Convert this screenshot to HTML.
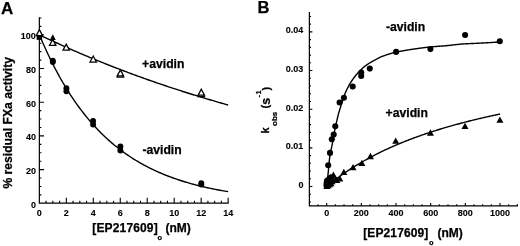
<!DOCTYPE html>
<html><head><meta charset="utf-8"><style>
html,body{margin:0;padding:0;background:#fff;}
svg{display:block;will-change:transform;}
text{font-family:"Liberation Sans",sans-serif;font-weight:bold;fill:#000;stroke:#000;stroke-width:0.25px;}
.t{stroke-width:0.1px;}
</style></head><body>
<svg width="520" height="246" viewBox="0 0 520 246">
<rect width="520" height="246" fill="#fff"/>
<path d="M39.35 17.95V203.05H228.14" fill="none" stroke="#000" stroke-width="1.2" stroke-linecap="square"/>
<path d="M39.35 194.88h2.0M39.35 186.45h2.0M39.35 178.03h2.0M39.35 169.6h4.6M39.35 161.18h2.0M39.35 152.75h2.0M39.35 144.33h2.0M39.35 135.9h4.6M39.35 127.48h2.0M39.35 119.05h2.0M39.35 110.63h2.0M39.35 102.2h4.6M39.35 93.78h2.0M39.35 85.35h2.0M39.35 76.93h2.0M39.35 68.5h4.6M39.35 60.08h2.0M39.35 51.65h2.0M39.35 43.22h2.0M39.35 34.8h4.6M39.35 26.38h2.0M39.35 17.95h2.0M46.09 203.05v-2.2M52.84 203.05v-2.2M59.58 203.05v-2.2M66.32 203.05v-5.2M73.06 203.05v-2.2M79.81 203.05v-2.2M86.55 203.05v-2.2M93.29 203.05v-5.2M100.03 203.05v-2.2M106.78 203.05v-2.2M113.52 203.05v-2.2M120.26 203.05v-5.2M127 203.05v-2.2M133.75 203.05v-2.2M140.49 203.05v-2.2M147.23 203.05v-5.2M153.97 203.05v-2.2M160.72 203.05v-2.2M167.46 203.05v-2.2M174.2 203.05v-5.2M180.94 203.05v-2.2M187.68 203.05v-2.2M194.43 203.05v-2.2M201.17 203.05v-5.2M207.91 203.05v-2.2M214.66 203.05v-2.2M221.4 203.05v-2.2M228.14 203.05v-5.2" stroke="#000" stroke-width="1.1"/>
<path d="M309.37 12.58V205.9H517.33" fill="none" stroke="#000" stroke-width="1.2" stroke-linecap="square"/>
<path d="M309.37 201.96h1.6M309.37 194.23h1.6M309.37 186.5h3.0M309.37 178.77h1.6M309.37 171.04h1.6M309.37 163.31h1.6M309.37 155.58h1.6M309.37 147.85h3.0M309.37 140.12h1.6M309.37 132.39h1.6M309.37 124.66h1.6M309.37 116.93h1.6M309.37 109.2h3.0M309.37 101.47h1.6M309.37 93.74h1.6M309.37 86.01h1.6M309.37 78.28h1.6M309.37 70.55h3.0M309.37 62.82h1.6M309.37 55.09h1.6M309.37 47.36h1.6M309.37 39.63h1.6M309.37 31.9h3.0M309.37 24.17h1.6M309.37 16.44h1.6M318.03 205.9v-1.6M326.7 205.9v-3.0M335.37 205.9v-1.6M344.03 205.9v-1.6M352.69 205.9v-1.6M361.36 205.9v-3.0M370.02 205.9v-1.6M378.69 205.9v-1.6M387.36 205.9v-1.6M396.02 205.9v-3.0M404.69 205.9v-1.6M413.35 205.9v-1.6M422.01 205.9v-1.6M430.68 205.9v-3.0M439.35 205.9v-1.6M448.01 205.9v-1.6M456.67 205.9v-1.6M465.34 205.9v-3.0M474 205.9v-1.6M482.67 205.9v-1.6M491.34 205.9v-1.6M500 205.9v-3.0M508.66 205.9v-1.6M517.33 205.9v-1.6" stroke="#000" stroke-width="1.1"/>
<path d="M39.35 34.8 40.94 35.56 42.52 36.32 44.11 37.07 45.7 37.83 47.28 38.57 48.87 39.32 50.46 40.06 52.04 40.8 53.63 41.53 55.21 42.26 56.8 42.99 58.39 43.71 59.97 44.44 61.56 45.15 63.15 45.87 64.73 46.58 66.32 47.29 67.91 47.99 69.49 48.69 71.08 49.39 72.67 50.09 74.25 50.78 75.84 51.47 77.43 52.16 79.01 52.84 80.6 53.52 82.18 54.2 83.77 54.87 85.36 55.54 86.94 56.21 88.53 56.87 90.12 57.54 91.7 58.19 93.29 58.85 94.88 59.5 96.46 60.15 98.05 60.8 99.64 61.44 101.22 62.08 102.81 62.72 104.4 63.36 105.98 63.99 107.57 64.62 109.15 65.25 110.74 65.87 112.33 66.49 113.91 67.11 115.5 67.73 117.09 68.34 118.67 68.95 120.26 69.55 121.85 70.16 123.43 70.76 125.02 71.36 126.61 71.96 128.19 72.55 129.78 73.14 131.37 73.73 132.95 74.31 134.54 74.9 136.12 75.48 137.71 76.06 139.3 76.63 140.88 77.2 142.47 77.77 144.06 78.34 145.64 78.9 147.23 79.47 148.82 80.03 150.4 80.58 151.99 81.14 153.58 81.69 155.16 82.24 156.75 82.79 158.34 83.33 159.92 83.87 161.51 84.41 163.09 84.95 164.68 85.49 166.27 86.02 167.85 86.55 169.44 87.08 171.03 87.6 172.61 88.12 174.2 88.64 175.79 89.16 177.37 89.68 178.96 90.19 180.55 90.7 182.13 91.21 183.72 91.72 185.31 92.22 186.89 92.72 188.48 93.22 190.06 93.72 191.65 94.22 193.24 94.71 194.82 95.2 196.41 95.69 198 96.18 199.58 96.66 201.17 97.14 202.76 97.62 204.34 98.1 205.93 98.57 207.52 99.05 209.1 99.52 210.69 99.99 212.28 100.45 213.86 100.92 215.45 101.38 217.03 101.84 218.62 102.3 220.21 102.76 221.79 103.21 223.38 103.66 224.97 104.11 226.55 104.56 228.14 105.01" fill="none" stroke="#000" stroke-width="1.4"/>
<path d="M39.35 34.8 40.94 38.54 42.52 42.2 44.11 45.78 45.7 49.28 47.28 52.71 48.87 56.05 50.46 59.32 52.04 62.52 53.63 65.65 55.21 68.71 56.8 71.7 58.39 74.63 59.97 77.48 61.56 80.28 63.15 83.01 64.73 85.69 66.32 88.3 67.91 90.85 69.49 93.35 71.08 95.8 72.67 98.19 74.25 100.52 75.84 102.8 77.43 105.04 79.01 107.22 80.6 109.36 82.18 111.44 83.77 113.48 85.36 115.48 86.94 117.43 88.53 119.34 90.12 121.21 91.7 123.03 93.29 124.81 94.88 126.56 96.46 128.26 98.05 129.93 99.64 131.56 101.22 133.15 102.81 134.71 104.4 136.24 105.98 137.73 107.57 139.18 109.15 140.61 110.74 142 112.33 143.36 113.91 144.7 115.5 146 117.09 147.27 118.67 148.52 120.26 149.73 121.85 150.92 123.43 152.09 125.02 153.22 126.61 154.34 128.19 155.43 129.78 156.49 131.37 157.53 132.95 158.55 134.54 159.54 136.12 160.51 137.71 161.46 139.3 162.39 140.88 163.3 142.47 164.19 144.06 165.06 145.64 165.91 147.23 166.74 148.82 167.55 150.4 168.35 151.99 169.12 153.58 169.88 155.16 170.63 156.75 171.35 158.34 172.06 159.92 172.76 161.51 173.43 163.09 174.1 164.68 174.75 166.27 175.38 167.85 176 169.44 176.61 171.03 177.2 172.61 177.78 174.2 178.35 175.79 178.9 177.37 179.44 178.96 179.98 180.55 180.49 182.13 181 183.72 181.5 185.31 181.98 186.89 182.45 188.48 182.92 190.06 183.37 191.65 183.81 193.24 184.25 194.82 184.67 196.41 185.08 198 185.49 199.58 185.88 201.17 186.27 202.76 186.65 204.34 187.02 205.93 187.38 207.52 187.73 209.1 188.08 210.69 188.42 212.28 188.75 213.86 189.07 215.45 189.39 217.03 189.7 218.62 190 220.21 190.3 221.79 190.58 223.38 190.87 224.97 191.14 226.55 191.41 228.14 191.68" fill="none" stroke="#000" stroke-width="1.4"/>
<path d="M326.7 186.5 327.57 185.78 328.44 185.06 329.31 184.35 330.18 183.64 331.05 182.95 331.93 182.26 332.8 181.57 333.67 180.9 334.54 180.23 335.41 179.57 336.28 178.91 337.15 178.26 338.02 177.61 338.89 176.97 339.76 176.34 340.63 175.71 341.5 175.09 342.38 174.48 343.25 173.87 344.12 173.26 344.99 172.67 345.86 172.07 346.73 171.48 347.6 170.9 348.47 170.32 349.34 169.75 350.21 169.18 351.08 168.62 351.95 168.06 352.83 167.51 353.7 166.96 354.57 166.42 355.44 165.88 356.31 165.35 357.18 164.82 358.05 164.3 358.92 163.78 359.79 163.26 360.66 162.75 361.53 162.24 362.41 161.74 363.28 161.24 364.15 160.75 365.02 160.26 365.89 159.77 366.76 159.29 367.63 158.81 368.5 158.33 369.37 157.86 370.24 157.4 371.11 156.93 371.98 156.47 372.86 156.02 373.73 155.56 374.6 155.12 375.47 154.67 376.34 154.23 377.21 153.79 378.08 153.36 378.95 152.92 379.82 152.5 380.69 152.07 381.56 151.65 382.43 151.23 383.31 150.81 384.18 150.4 385.05 149.99 385.92 149.59 386.79 149.18 387.66 148.78 388.53 148.39 389.4 147.99 390.27 147.6 391.14 147.21 392.01 146.83 392.88 146.44 393.76 146.06 394.63 145.69 395.5 145.31 396.37 144.94 397.24 144.57 398.11 144.21 398.98 143.84 399.85 143.48 400.72 143.12 401.59 142.76 402.46 142.41 403.34 142.06 404.21 141.71 405.08 141.36 405.95 141.02 406.82 140.68 407.69 140.34 408.56 140 409.43 139.67 410.3 139.33 411.17 139 412.04 138.68 412.91 138.35 413.79 138.03 414.66 137.7 415.53 137.38 416.4 137.07 417.27 136.75 418.14 136.44 419.01 136.13 419.88 135.82 420.75 135.51 421.62 135.21 422.49 134.9 423.36 134.6 424.24 134.3 425.11 134.01 425.98 133.71 426.85 133.42 427.72 133.13 428.59 132.84 429.46 132.55 430.33 132.26 431.2 131.98 432.07 131.7 432.94 131.41 433.82 131.14 434.69 130.86 435.56 130.58 436.43 130.31 437.3 130.04 438.17 129.77 439.04 129.5 439.91 129.23 440.78 128.96 441.65 128.7 442.52 128.44 443.39 128.18 444.27 127.92 445.14 127.66 446.01 127.4 446.88 127.15 447.75 126.9 448.62 126.64 449.49 126.39 450.36 126.14 451.23 125.9 452.1 125.65 452.97 125.41 453.84 125.16 454.72 124.92 455.59 124.68 456.46 124.44 457.33 124.21 458.2 123.97 459.07 123.74 459.94 123.5 460.81 123.27 461.68 123.04 462.55 122.81 463.42 122.58 464.29 122.35 465.17 122.13 466.04 121.9 466.91 121.68 467.78 121.46 468.65 121.24 469.52 121.02 470.39 120.8 471.26 120.58 472.13 120.37 473 120.15 473.87 119.94 474.75 119.73 475.62 119.52 476.49 119.31 477.36 119.1 478.23 118.89 479.1 118.68 479.97 118.48 480.84 118.27 481.71 118.07 482.58 117.87 483.45 117.66 484.32 117.46 485.2 117.26 486.07 117.07 486.94 116.87 487.81 116.67 488.68 116.48 489.55 116.28 490.42 116.09 491.29 115.9 492.16 115.71 493.03 115.52 493.9 115.33 494.77 115.14 495.65 114.95 496.52 114.77 497.39 114.58 498.26 114.4 499.13 114.21 500 114.03" fill="none" stroke="#000" stroke-width="1.4"/>
<path d="M326.5 186.5 327.08 182.3 327.66 177.69 328.24 172.32 328.82 166.04 329.4 159.94 329.98 155.14 330.56 151.96 331.14 149.42 331.72 146.9 332.3 143.9 332.88 140.63 333.46 137.25 334.03 133.93 334.61 130.83 335.19 128.01 335.77 125.36 336.35 122.81 336.93 120.29 337.51 117.75 338.09 115.3 338.67 113.15 339.25 111.19 339.83 109.33 340.41 107.55 340.99 105.79 341.57 104 342.15 102.12 342.73 100.2 343.31 98.31 343.89 96.53 344.47 94.93 345.05 93.53 345.63 92.18 346.21 90.9 346.79 89.67 347.37 88.48 347.95 87.35 348.52 86.26 349.1 85.21 349.68 84.2 350.26 83.23 350.84 82.29 351.42 81.38 352 80.5 352.58 79.64 353.16 78.81 353.74 78.01 354.32 77.23 354.9 76.48 355.48 75.75 356.06 75.04 356.64 74.35 357.22 73.68 357.8 73.03 358.38 72.39 358.96 71.77 359.54 71.17 360.12 70.58 360.7 70 361.28 69.44 361.86 68.89 362.44 68.36 363.01 67.84 363.59 67.34 364.17 66.85 364.75 66.38 365.33 65.92 365.91 65.48 366.49 65.06 367.07 64.66 367.65 64.26 368.23 63.88 368.81 63.51 369.39 63.15 369.97 62.8 370.55 62.45 371.13 62.12 371.71 61.79 372.29 61.46 372.87 61.14 373.45 60.82 374.03 60.5 374.61 60.19 375.19 59.87 375.77 59.56 376.35 59.24 376.93 58.93 377.5 58.63 378.08 58.33 378.66 58.03 379.24 57.74 379.82 57.46 380.4 57.19 380.98 56.93 381.56 56.68 382.14 56.44 382.72 56.22 383.3 56 383.88 55.78 384.46 55.57 385.04 55.36 385.62 55.16 386.2 54.96 386.78 54.77 387.36 54.58 387.94 54.39 388.52 54.21 389.1 54.03 389.68 53.85 390.26 53.68 390.84 53.51 391.42 53.35 391.99 53.19 392.57 53.04 393.15 52.89 393.73 52.74 394.31 52.6 394.89 52.46 395.47 52.32 396.05 52.19 396.63 52.06 397.21 51.93 397.79 51.81 398.37 51.69 398.95 51.57 399.53 51.45 400.11 51.34 400.69 51.23 401.27 51.12 401.85 51.01 402.43 50.9 403.01 50.8 403.59 50.69 404.17 50.59 404.75 50.49 405.33 50.39 405.91 50.3 406.48 50.2 407.06 50.1 407.64 50.01 408.22 49.92 408.8 49.83 409.38 49.74 409.96 49.65 410.54 49.56 411.12 49.47 411.7 49.39 412.28 49.3 412.86 49.21 413.44 49.13 414.02 49.04 414.6 48.96 415.18 48.87 415.76 48.79 416.34 48.71 416.92 48.62 417.5 48.54 418.08 48.46 418.66 48.38 419.24 48.3 419.82 48.22 420.39 48.14 420.97 48.06 421.55 47.98 422.13 47.91 422.71 47.83 423.29 47.76 423.87 47.69 424.45 47.62 425.03 47.55 425.61 47.48 426.19 47.41 426.77 47.34 427.35 47.28 427.93 47.21 428.51 47.15 429.09 47.09 429.67 47.03 430.25 46.98 430.83 46.92 431.41 46.87 431.99 46.82 432.57 46.77 433.15 46.72 433.73 46.67 434.31 46.62 434.88 46.58 435.46 46.53 436.04 46.49 436.62 46.45 437.2 46.4 437.78 46.36 438.36 46.32 438.94 46.28 439.52 46.24 440.1 46.19 440.68 46.15 441.26 46.11 441.84 46.06 442.42 46.02 443 45.98 443.58 45.93 444.16 45.88 444.74 45.84 445.32 45.79 445.9 45.74 446.48 45.68 447.06 45.63 447.64 45.57 448.22 45.51 448.8 45.45 449.37 45.39 449.95 45.32 450.53 45.26 451.11 45.19 451.69 45.12 452.27 45.05 452.85 44.99 453.43 44.92 454.01 44.85 454.59 44.78 455.17 44.71 455.75 44.64 456.33 44.58 456.91 44.51 457.49 44.45 458.07 44.39 458.65 44.33 459.23 44.27 459.81 44.22 460.39 44.16 460.97 44.11 461.55 44.07 462.13 44.03 462.71 43.99 463.29 43.95 463.86 43.91 464.44 43.88 465.02 43.85 465.6 43.81 466.18 43.78 466.76 43.75 467.34 43.72 467.92 43.7 468.5 43.67 469.08 43.64 469.66 43.61 470.24 43.59 470.82 43.56 471.4 43.54 471.98 43.51 472.56 43.49 473.14 43.46 473.72 43.44 474.3 43.41 474.88 43.39 475.46 43.36 476.04 43.34 476.62 43.31 477.2 43.28 477.78 43.25 478.35 43.22 478.93 43.19 479.51 43.16 480.09 43.13 480.67 43.1 481.25 43.07 481.83 43.04 482.41 43.01 482.99 42.98 483.57 42.94 484.15 42.91 484.73 42.88 485.31 42.85 485.89 42.82 486.47 42.78 487.05 42.75 487.63 42.72 488.21 42.69 488.79 42.65 489.37 42.62 489.95 42.59 490.53 42.55 491.11 42.52 491.69 42.49 492.27 42.45 492.84 42.42 493.42 42.38 494 42.35 494.58 42.32 495.16 42.28 495.74 42.25 496.32 42.21 496.9 42.18 497.48 42.14 498.06 42.11 498.64 42.07 499.22 42.04 499.8 42" fill="none" stroke="#000" stroke-width="1.4"/>
<polygon points="39.4,29.6 42.6,35.6 36.2,35.6" fill="#fff" stroke="#000" stroke-width="1.25" stroke-linejoin="miter"/>
<polygon points="52.7,39.4 55.9,45.4 49.5,45.4" fill="#fff" stroke="#000" stroke-width="1.25" stroke-linejoin="miter"/>
<polygon points="66.2,44.1 69.4,50.1 63,50.1" fill="#fff" stroke="#000" stroke-width="1.25" stroke-linejoin="miter"/>
<polygon points="93.2,56 96.4,62 90,62" fill="#fff" stroke="#000" stroke-width="1.25" stroke-linejoin="miter"/>
<polygon points="120.4,71.2 123.6,77.2 117.2,77.2" fill="#fff" stroke="#000" stroke-width="1.25" stroke-linejoin="miter"/>
<polygon points="120.4,69.9 123.6,75.9 117.2,75.9" fill="#fff" stroke="#000" stroke-width="1.25" stroke-linejoin="miter"/>
<polygon points="201.3,90.6 204.5,96.6 198.1,96.6" fill="#fff" stroke="#000" stroke-width="1.25" stroke-linejoin="miter"/>
<polygon points="201.3,89.2 204.5,95.2 198.1,95.2" fill="#fff" stroke="#000" stroke-width="1.25" stroke-linejoin="miter"/>
<rect x="36.7" y="34.9" width="5.4" height="5"/>
<polygon points="52.8,34.3 55.8,40.1 49.8,40.1"/>
<circle cx="52.8" cy="60.7" r="2.95"/>
<circle cx="52.8" cy="62" r="2.95"/>
<circle cx="66.4" cy="88.3" r="2.95"/>
<circle cx="66.4" cy="91.3" r="2.95"/>
<circle cx="93.1" cy="121" r="2.95"/>
<circle cx="93.1" cy="124.5" r="2.95"/>
<circle cx="120.4" cy="146.4" r="2.95"/>
<circle cx="120.4" cy="150.5" r="2.95"/>
<circle cx="201.3" cy="183.1" r="2.95"/>
<circle cx="201.3" cy="184.6" r="2.95"/>
<circle cx="326.5" cy="185.6" r="3.05"/>
<circle cx="326.6" cy="183" r="3.05"/>
<circle cx="327" cy="180.8" r="3.05"/>
<circle cx="329.3" cy="178.8" r="3.05"/>
<circle cx="331.2" cy="177.4" r="3.05"/>
<circle cx="328.2" cy="165.2" r="3.05"/>
<circle cx="330" cy="152.9" r="3.05"/>
<circle cx="331.8" cy="139.2" r="3.05"/>
<circle cx="333.7" cy="134.6" r="3.05"/>
<circle cx="335.3" cy="126.3" r="3.05"/>
<circle cx="339.6" cy="102.5" r="3.05"/>
<circle cx="343.9" cy="97.7" r="3.05"/>
<circle cx="352.7" cy="86.5" r="3.05"/>
<circle cx="361.2" cy="72.6" r="3.05"/>
<circle cx="361.2" cy="76" r="3.05"/>
<circle cx="369.8" cy="68.6" r="3.05"/>
<circle cx="396.1" cy="51.9" r="3.05"/>
<circle cx="430.4" cy="49.1" r="3.05"/>
<circle cx="465.1" cy="35" r="3.05"/>
<circle cx="499.8" cy="41.2" r="3.05"/>
<polygon points="326.9,182.65 330.4,188.95 323.4,188.95"/>
<polygon points="328,181.85 331.5,188.15 324.5,188.15"/>
<polygon points="329.5,180.85 333,187.15 326,187.15"/>
<polygon points="331,179.85 334.5,186.15 327.5,186.15"/>
<polygon points="332,177.85 335.5,184.15 328.5,184.15"/>
<polygon points="331,175.45 334.5,181.75 327.5,181.75"/>
<polygon points="333.4,171.45 336.9,177.75 329.9,177.75"/>
<polygon points="335.6,175.85 339.1,182.15 332.1,182.15"/>
<polygon points="336.8,176.65 340.3,182.95 333.3,182.95"/>
<polygon points="339.8,175.25 343.3,181.55 336.3,181.55"/>
<polygon points="343.8,168.75 347.3,175.05 340.3,175.05"/>
<polygon points="353,163.95 356.5,170.25 349.5,170.25"/>
<polygon points="361.9,159.75 365.4,166.05 358.4,166.05"/>
<polygon points="370.4,152.85 373.9,159.15 366.9,159.15"/>
<polygon points="395.7,137.45 399.2,143.75 392.2,143.75"/>
<polygon points="430.4,129.35 433.9,135.65 426.9,135.65"/>
<polygon points="465,122.65 468.5,128.95 461.5,128.95"/>
<polygon points="499.9,116.55 503.4,122.85 496.4,122.85"/>
<text x="35.9" y="207.8" font-size="9" text-anchor="end" class="t">0</text>
<text x="35.9" y="174.1" font-size="9" text-anchor="end" class="t">20</text>
<text x="35.9" y="140.4" font-size="9" text-anchor="end" class="t">40</text>
<text x="35.9" y="106.7" font-size="9" text-anchor="end" class="t">60</text>
<text x="35.9" y="73" font-size="9" text-anchor="end" class="t">80</text>
<text x="35.9" y="39.3" font-size="9" text-anchor="end" class="t">100</text>
<text x="39.35" y="216" font-size="9" text-anchor="middle" class="t">0</text>
<text x="66.32" y="216" font-size="9" text-anchor="middle" class="t">2</text>
<text x="93.29" y="216" font-size="9" text-anchor="middle" class="t">4</text>
<text x="120.26" y="216" font-size="9" text-anchor="middle" class="t">6</text>
<text x="147.23" y="216" font-size="9" text-anchor="middle" class="t">8</text>
<text x="174.2" y="216" font-size="9" text-anchor="middle" class="t">10</text>
<text x="201.17" y="216" font-size="9" text-anchor="middle" class="t">12</text>
<text x="228.14" y="216" font-size="9" text-anchor="middle" class="t">14</text>
<text x="303.4" y="187.9" font-size="9" text-anchor="end" class="t">0</text>
<text x="303.4" y="149.25" font-size="9" text-anchor="end" class="t">0.01</text>
<text x="303.4" y="110.6" font-size="9" text-anchor="end" class="t">0.02</text>
<text x="303.4" y="71.95" font-size="9" text-anchor="end" class="t">0.03</text>
<text x="303.4" y="33.3" font-size="9" text-anchor="end" class="t">0.04</text>
<text x="326.7" y="216.2" font-size="9" text-anchor="middle" class="t">0</text>
<text x="361.36" y="216.2" font-size="9" text-anchor="middle" class="t">200</text>
<text x="396.02" y="216.2" font-size="9" text-anchor="middle" class="t">400</text>
<text x="430.68" y="216.2" font-size="9" text-anchor="middle" class="t">600</text>
<text x="465.34" y="216.2" font-size="9" text-anchor="middle" class="t">800</text>
<text x="500" y="216.2" font-size="9" text-anchor="middle" class="t">1000</text>
<text x="0.9" y="13.75" font-size="17" text-anchor="start" >A</text>
<text x="257.5" y="13.1" font-size="16.5" text-anchor="start" >B</text>
<text x="142.1" y="68.3" font-size="12.2" text-anchor="start" >+avidin</text>
<text x="142.4" y="153.6" font-size="12.2" text-anchor="start" >-avidin</text>
<text x="385.9" y="31.3" font-size="12.2" text-anchor="start" >-avidin</text>
<text x="385.6" y="117" font-size="12.2" text-anchor="start" >+avidin</text>
<text x="92.3" y="232.1" font-size="12"><tspan letter-spacing="0.15">[EP217609]</tspan><tspan font-size="7.5" dy="7.6" dx="-0.3">o</tspan><tspan dy="-7.6" dx="3.3">(nM)</tspan></text>
<text x="363.2" y="237.1" font-size="12"><tspan letter-spacing="0.12">[EP217609]</tspan><tspan font-size="7.5" dy="7.6" dx="0.6">o</tspan><tspan dy="-7.6" dx="3.8">(nM)</tspan></text>
<text transform="translate(12.2 188.6) rotate(-90)" font-size="12.15">% residual FXa activity</text>
<text transform="translate(269.4 133.6) rotate(-90)" font-size="11">k</text>
<text transform="translate(276.7 125.9) rotate(-90)" font-size="8.0">obs</text>
<text transform="translate(269.4 108.4) rotate(-90)" font-size="11">(</text>
<text transform="translate(269.7 104.7) rotate(-90)" font-size="12.4">s</text>
<text transform="translate(261.4 97.2) rotate(-90)" font-size="6.5" letter-spacing="0.9">-1</text>
<text transform="translate(269.9 90.5) rotate(-90)" font-size="11">)</text>
</svg>
</body></html>
